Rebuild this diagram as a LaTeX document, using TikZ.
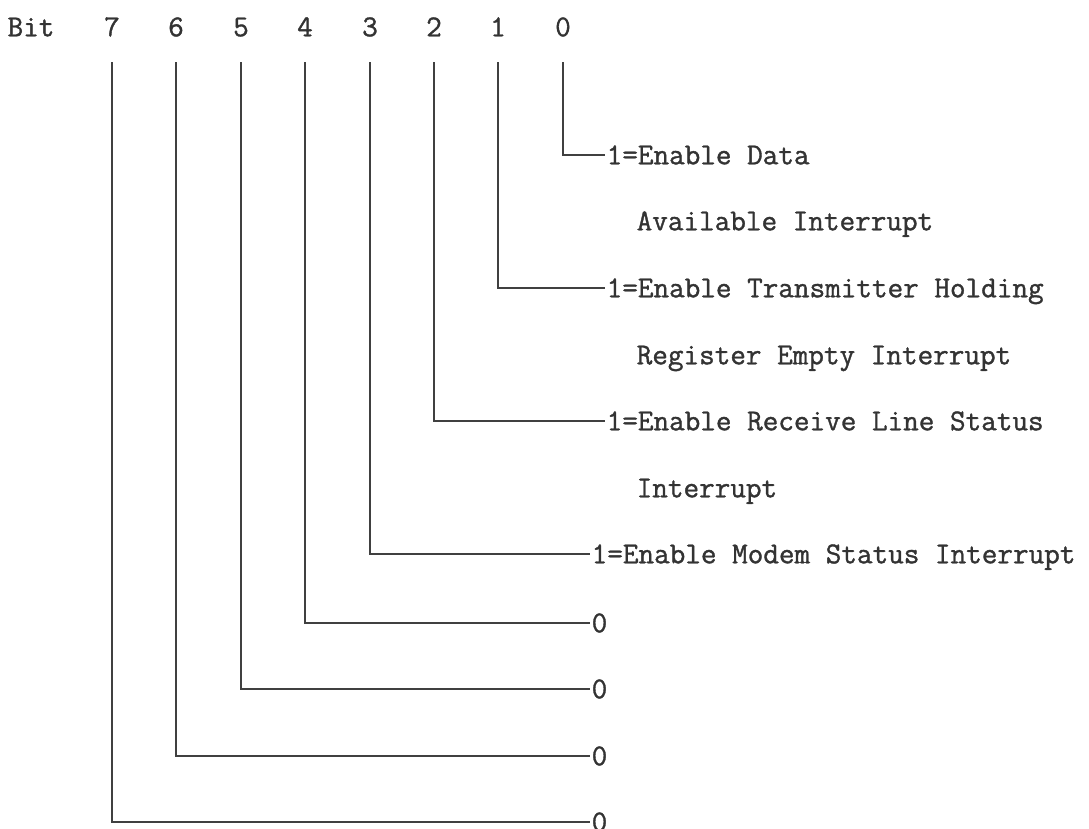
\documentclass[tikz,border=0pt]{standalone}
\usepackage{fontspec}
\setmonofont[FakeBold=1.2]{Latin Modern Mono}
\usepackage{tikz}
\usetikzlibrary{positioning}
\tikzstyle{bitnum}=[inner sep=0mm, text height=18.5pt, text depth=0pt, text=black!80, font=\ttfamily\fontsize{30.3}{30}\selectfont]
\tikzstyle{field}=[anchor=west, inner xsep=1.5pt, inner ysep=0pt, text height=18.5pt, text depth=0pt, text=black!80, font=\ttfamily\fontsize{30.3}{30}\selectfont]
\tikzstyle{wire}=[draw=black!75, line width=1.6pt]
\tikzset{every picture/.style={
    x=1pt, y=-1pt
  }
}

\begin{document}
\begin{tikzpicture}
        \useasboundingbox (0,0) rectangle (1089,828);
        \node[bitnum] at (31,27) (bit) {Bit};
        \node[bitnum] at (112,27) (b7) {7};
        \node[bitnum] at (176,27) (b6) {6};
        \node[bitnum] at (241,27) (b5) {5};
        \node[bitnum] at (305,27) (b4) {4};
        \node[bitnum] at (370,27) (b3) {3};
        \node[bitnum] at (434,27) (b2) {2};
        \node[bitnum] at (498,27) (b1) {1};
        \node[bitnum] at (563,27) (b0) {0};
        \node[field] at (605,155) (ie0) {1=Enable Data};
        \node[field] at (635,221) {Available Interrupt};
        \node[field] at (605,288) (ie1) {1=Enable Transmitter Holding};
        \node[field] at (635,355) {Register Empty Interrupt};
        \node[field] at (605,421) (ie2) {1=Enable Receive Line Status};
        \node[field] at (635,488) {Interrupt};
        \node[field] at (590,554) (ie3) {1=Enable Modem Status Interrupt};
        \node[field] at (590,623) (ie4) {0};
        \node[field] at (590,689) (ie5) {0};
        \node[field] at (590,756) (ie6) {0};
        \node[field] at (590,822) (ie7) {0};
        \draw[wire] ([yshift=-35pt]b0.center) |- (ie0.west);
        \draw[wire] ([yshift=-35pt]b1.center) |- (ie1.west);
        \draw[wire] ([yshift=-35pt]b2.center) |- (ie2.west);
        \draw[wire] ([yshift=-35pt]b3.center) |- (ie3.west);
        \draw[wire] ([yshift=-35pt]b4.center) |- (ie4.west);
        \draw[wire] ([yshift=-35pt]b5.center) |- (ie5.west);
        \draw[wire] ([yshift=-35pt]b6.center) |- (ie6.west);
        \draw[wire] ([yshift=-35pt]b7.center) |- (ie7.west);
      \end{tikzpicture}
\end{document}
